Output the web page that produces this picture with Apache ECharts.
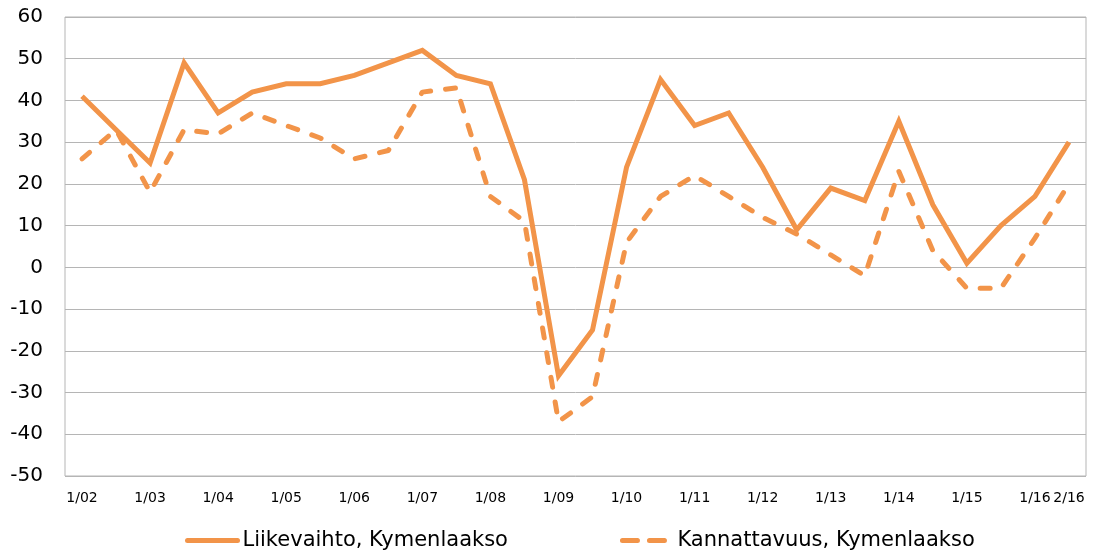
<!DOCTYPE html>
<html>
<head>
<meta charset="utf-8">
<script src="https://cdn.jsdelivr.net/npm/echarts@6/dist/echarts.min.js"></script>
<style>
  html, body { margin: 0; padding: 0; background: #fff; }
  #chart { width: 1095px; height: 551px; }
</style>
</head>
<body>
<div id="chart"></div>
<script>
// kvartaalit puolen vuoden välein, viimeisenä 2/16
const periods = [
  '1/02', '7/02', '1/03', '7/03', '1/04', '7/04', '1/05', '7/05', '1/06', '7/06',
  '1/07', '7/07', '1/08', '7/08', '1/09', '7/09', '1/10', '7/10', '1/11', '7/11',
  '1/12', '7/12', '1/13', '7/13', '1/14', '7/14', '1/15', '7/15', '1/16', '2/16'
]

// Liikevaihto, Kymenlaakso
const liikevaihto = [
  41, 33, 25, 49, 37, 42, 44, 44, 46, 49,
  52, 46, 44, 21, -26, -15, 24, 45, 34, 37,
  24, 9, 19, 16, 35, 15, 1, 10, 17, 30
]

// Kannattavuus, Kymenlaakso
const kannattavuus = [
  26, 33, 18, 33, 32, 37, 34, 31, 26, 28,
  42, 43, 17, 11, -37, -31, 6, 17, 22, 17,
  12, 8, 3, -2, 23, 4, -5, -5, 7, 20
]

const ORANGE = '#F29449'
const FONT = 'DejaVu Sans'
const DASH = [10, 15]

const chart = echarts.init(document.getElementById('chart'))

const option = {
  animation: false,
  textStyle: { fontFamily: FONT, color: '#000' },
  grid: {
    left: 65,
    right: 9,
    top: 17,
    bottom: 75,
    show: true,
    borderColor: '#B5B5B5',
    borderWidth: 1
  },
  legend: {
    left: 180,
    top: 525,
    itemWidth: 50,
    itemHeight: 14,
    itemGap: 112,
    itemStyle: { opacity: 0 },
    textStyle: { fontFamily: FONT, fontSize: 21, color: '#000' },
    data: [
      {
        name: 'Liikevaihto, Kymenlaakso',
        lineStyle: { width: 5, color: ORANGE, cap: 'round' }
      },
      {
        name: 'Kannattavuus, Kymenlaakso',
        lineStyle: { width: 5, color: ORANGE, type: [15, 12], cap: 'round' }
      }
    ]
  },
  xAxis: {
    type: 'category',
    data: periods,
    boundaryGap: true,
    axisLine: { show: false },
    axisTick: { show: false },
    axisLabel: {
      fontFamily: FONT,
      fontSize: 14,
      color: '#000',
      margin: 15,
      interval: (i) => i % 2 === 0 || i === periods.length - 1
    }
  },
  yAxis: {
    type: 'value',
    min: -50,
    max: 60,
    interval: 10,
    axisLine: { show: false },
    axisTick: { show: false },
    axisLabel: { fontFamily: FONT, fontSize: 20, color: '#000', margin: 22 },
    splitLine: { lineStyle: { color: '#B5B5B5', width: 1 } }
  },
  series: [
    {
      name: 'Liikevaihto, Kymenlaakso',
      type: 'line',
      data: liikevaihto,
      symbol: 'none',
      itemStyle: { color: ORANGE },
      lineStyle: { color: ORANGE, width: 5, join: 'miter' }
    },
    {
      name: 'Kannattavuus, Kymenlaakso',
      type: 'line',
      data: kannattavuus,
      symbol: 'none',
      itemStyle: { color: ORANGE },
      lineStyle: { color: ORANGE, width: 5, type: DASH, cap: 'round', join: 'round' }
    }
  ]
}

chart.setOption(option)
</script>
</body>
</html>
